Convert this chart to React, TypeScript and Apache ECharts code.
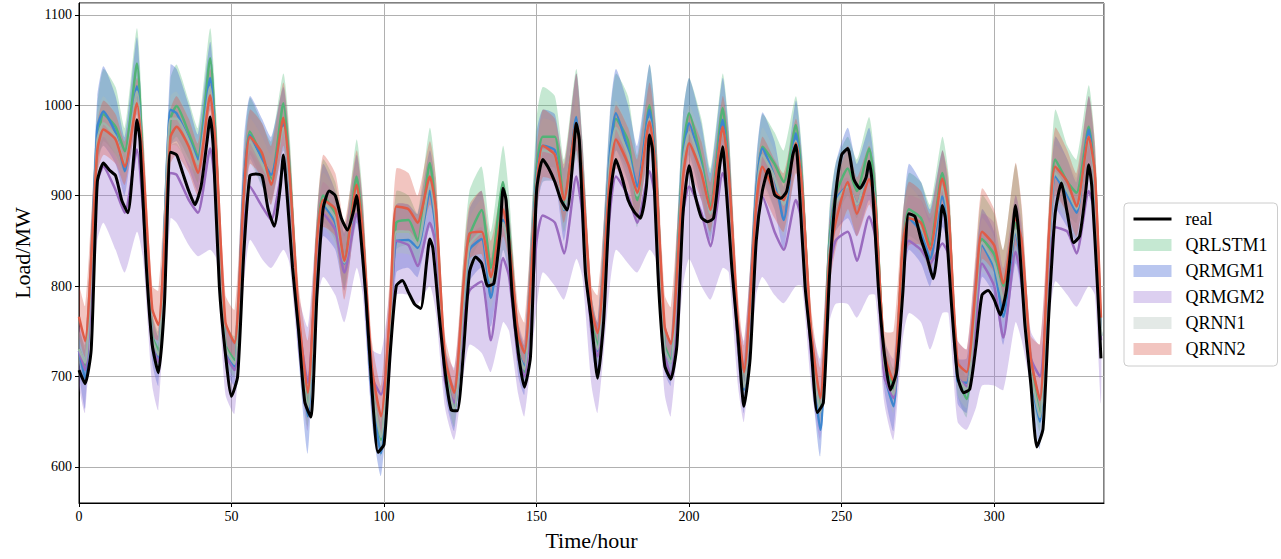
import { useEffect, useRef } from 'react';
import * as echarts from 'echarts';

// hours at which model quantiles were read
const modelHours = [
  0, 2, 6, 8, 12, 15, 19, 21,
  24, 26, 30, 32, 36, 39, 43, 45,
  48, 51, 54, 56, 60, 63, 67, 69,
  72, 75, 78, 80, 84, 87, 91, 93,
  96, 99, 102, 104, 108, 111, 115, 117,
  120, 123, 126, 128, 132, 135, 139, 141,
  144, 146, 150, 152, 156, 159, 163, 165,
  168, 170, 174, 176, 180, 183, 187, 189,
  192, 194, 198, 200, 204, 207, 211, 213,
  216, 218, 222, 224, 228, 231, 235, 237,
  240, 243, 246, 248, 252, 255, 259, 261,
  264, 267, 270, 272, 276, 279, 283, 285,
  288, 291, 294, 296, 300, 303, 307, 309,
  312, 315, 318, 320, 324, 327, 331, 333, 335,
];

const realHours = [
  0, 2, 4, 6, 8, 10, 12, 14, 16, 18, 19, 20, 22,
  24, 26, 28, 30, 32, 34, 36, 38, 40, 42, 43, 44, 46,
  48, 50, 52, 54, 56, 58, 60, 62, 64, 66, 67, 68, 70,
  72, 74, 76, 78, 80, 82, 84, 86, 88, 90, 91, 92, 94,
  96, 98, 100, 102, 104, 106, 108, 110, 112, 114, 115, 116, 118,
  120, 122, 124, 126, 128, 130, 132, 134, 136, 138, 139, 140, 142,
  144, 146, 148, 150, 152, 154, 156, 158, 160, 162, 163, 164, 166,
  168, 170, 172, 174, 176, 178, 180, 182, 184, 186, 187, 188, 190,
  192, 194, 196, 198, 200, 202, 204, 206, 208, 210, 211, 212, 214,
  216, 218, 220, 222, 224, 226, 228, 230, 232, 234, 235, 236, 238,
  240, 242, 244, 246, 248, 250, 252, 254, 256, 258, 259, 260, 262,
  264, 266, 268, 270, 272, 274, 276, 278, 280, 282, 283, 284, 286,
  288, 290, 292, 294, 296, 298, 300, 302, 304, 306, 307, 308, 310,
  312, 314, 316, 318, 320, 322, 324, 326, 328, 330, 331, 332, 334, 335,
];

const realLoad = [
  707, 692, 730, 915, 936, 928, 922, 895, 881, 945, 984, 960, 825,
  735, 704, 780, 948, 945, 925, 905, 890, 910, 961, 987, 954, 800,
  725, 678, 700, 835, 922, 924, 922, 885, 866, 910, 945, 910, 820,
  750, 672, 655, 790, 885, 905, 900, 875, 862, 883, 900, 870, 790,
  688, 616, 625, 725, 800, 806, 793, 780, 775, 828, 852, 842, 770,
  705, 663, 662, 726, 815, 832, 825, 800, 803, 858, 908, 895, 790,
  726, 688, 722, 905, 940, 930, 915, 895, 884, 943, 980, 962, 815,
  760, 698, 762, 895, 940, 920, 895, 882, 875, 910, 967, 951, 800,
  712, 697, 735, 880, 933, 900, 876, 871, 875, 932, 954, 915, 820,
  744, 667, 720, 850, 905, 929, 901, 897, 905, 945, 956, 915, 800,
  733, 660, 671, 810, 900, 945, 952, 918, 908, 920, 938, 915, 800,
  725, 685, 705, 790, 880, 877, 852, 832, 808, 855, 889, 875, 780,
  700, 682, 686, 733, 790, 795, 785, 768, 795, 860, 889, 860, 760,
  692, 622, 642, 775, 880, 914, 880, 848, 855, 905, 934, 910, 790, 720,
];

const qrlstm1Mid = [
  730, 712, 955, 990, 976, 949, 1046, 930,
  745, 729, 985, 999, 969, 943, 1052, 945,
  735, 718, 900, 971, 943, 918, 1002, 930,
  760, 667, 850, 900, 880, 828, 921, 860,
  690, 630, 760, 870, 873, 850, 936, 880,
  710, 663, 790, 855, 884, 820, 915, 860,
  730, 705, 930, 965, 965, 892, 980, 920,
  760, 735, 940, 985, 960, 895, 1000, 935,
  735, 718, 950, 991, 940, 888, 997, 930,
  745, 690, 900, 954, 935, 915, 978, 915,
  740, 663, 850, 900, 930, 905, 952, 900,
  720, 687, 840, 885, 875, 845, 925, 885,
  700, 675, 790, 852, 835, 800, 870, 840,
  710, 659, 850, 940, 915, 903, 976, 920, 745,
];
const qrlstm1Lo = [
  715, 695, 925, 960, 945, 925, 1010, 900,
  725, 710, 955, 965, 940, 915, 1015, 910,
  715, 700, 860, 945, 915, 890, 970, 895,
  740, 645, 820, 870, 850, 800, 890, 825,
  670, 612, 730, 840, 845, 825, 905, 850,
  690, 645, 760, 825, 850, 790, 880, 830,
  710, 690, 895, 930, 930, 860, 945, 890,
  740, 715, 905, 950, 925, 865, 965, 900,
  715, 700, 915, 955, 905, 855, 960, 895,
  725, 670, 865, 920, 900, 880, 945, 880,
  715, 645, 815, 870, 900, 875, 920, 870,
  700, 670, 810, 855, 845, 815, 895, 855,
  680, 655, 760, 820, 805, 775, 840, 810,
  690, 640, 815, 905, 880, 870, 940, 880, 720,
];
const qrlstm1Hi = [
  750, 735, 1000, 1040, 1020, 975, 1085, 975,
  770, 750, 1030, 1045, 1005, 975, 1085, 990,
  760, 745, 945, 1008, 980, 960, 1035, 970,
  785, 690, 880, 940, 915, 860, 962, 900,
  715, 655, 800, 905, 900, 880, 975, 920,
  735, 690, 830, 905, 932, 860, 955, 900,
  760, 735, 985, 1020, 1010, 940, 1040, 965,
  790, 760, 985, 1035, 1010, 945, 1045, 985,
  760, 740, 990, 1030, 985, 930, 1035, 975,
  770, 715, 935, 990, 970, 950, 1010, 950,
  765, 685, 885, 935, 965, 940, 987, 935,
  745, 710, 875, 925, 915, 890, 965, 925,
  725, 700, 830, 900, 880, 840, 935, 885,
  735, 680, 890, 995, 955, 940, 1022, 960, 775,
];

const qrmgm1Mid = [
  728, 697, 975, 993, 969, 927, 1021, 915,
  740, 720, 995, 991, 962, 940, 1030, 935,
  730, 711, 910, 967, 940, 923, 980, 915,
  750, 656, 840, 890, 870, 825, 905, 845,
  680, 615, 745, 850, 851, 842, 905, 860,
  700, 663, 775, 840, 852, 787, 873, 845,
  725, 711, 920, 955, 950, 884, 987, 915,
  755, 728, 945, 991, 950, 910, 995, 930,
  730, 715, 940, 980, 932, 881, 984, 925,
  740, 685, 905, 952, 920, 873, 969, 905,
  730, 641, 840, 895, 910, 890, 932, 890,
  705, 667, 830, 875, 860, 830, 899, 870,
  695, 693, 780, 845, 820, 766, 860, 820,
  700, 650, 840, 921, 900, 881, 973, 910, 745,
];
const qrmgm1Lo = [
  705, 665, 940, 955, 935, 900, 990, 880,
  715, 690, 955, 960, 930, 905, 995, 895,
  710, 690, 870, 940, 910, 895, 950, 880,
  720, 615, 805, 855, 840, 795, 870, 810,
  650, 590, 710, 815, 820, 810, 865, 830,
  680, 640, 745, 805, 820, 755, 840, 810,
  700, 680, 880, 915, 915, 850, 950, 880,
  730, 700, 905, 950, 915, 875, 955, 890,
  705, 690, 905, 945, 895, 850, 945, 885,
  715, 660, 865, 915, 885, 840, 935, 870,
  705, 612, 805, 860, 875, 855, 895, 860,
  685, 640, 795, 840, 825, 800, 865, 840,
  670, 660, 750, 810, 790, 735, 825, 790,
  680, 620, 805, 885, 865, 850, 935, 870, 720,
];
const qrmgm1Hi = [
  755, 730, 1010, 1043, 1010, 965, 1075, 960,
  770, 745, 1045, 1040, 1000, 968, 1070, 975,
  760, 740, 960, 1010, 985, 965, 1020, 955,
  780, 690, 875, 935, 905, 858, 945, 890,
  710, 650, 790, 890, 890, 880, 950, 905,
  730, 690, 810, 885, 905, 830, 905, 880,
  755, 735, 970, 995, 990, 930, 1035, 960,
  790, 760, 990, 1040, 1000, 955, 1045, 980,
  760, 740, 990, 1030, 980, 925, 1030, 970,
  765, 715, 940, 992, 960, 910, 1005, 945,
  760, 675, 880, 935, 975, 935, 975, 925,
  735, 700, 870, 935, 915, 885, 950, 910,
  720, 720, 820, 885, 860, 800, 900, 860,
  730, 680, 880, 965, 940, 915, 1010, 950, 770,
];

const qrmgm2Mid = [
  728, 707, 915, 932, 906, 881, 951, 885,
  735, 716, 925, 923, 895, 881, 952, 900,
  725, 707, 860, 910, 888, 873, 932, 880,
  760, 693, 830, 880, 862, 815, 880, 840,
  700, 680, 740, 850, 845, 822, 870, 845,
  695, 671, 760, 795, 805, 740, 831, 810,
  720, 700, 850, 878, 870, 836, 921, 880,
  750, 722, 880, 921, 900, 870, 927, 895,
  725, 700, 880, 910, 881, 844, 925, 890,
  735, 690, 860, 899, 860, 840, 895, 870,
  725, 676, 815, 850, 860, 828, 877, 855,
  700, 676, 810, 850, 840, 825, 847, 835,
  700, 689, 760, 825, 800, 743, 838, 805,
  720, 700, 820, 865, 860, 836, 905, 880, 740,
];
const qrmgm2Lo = [
  690, 660, 850, 870, 840, 815, 860, 830,
  690, 663, 875, 870, 845, 833, 840, 830,
  680, 659, 800, 851, 830, 820, 840, 825,
  720, 640, 780, 810, 790, 760, 820, 790,
  660, 640, 700, 790, 790, 780, 800, 770,
  665, 630, 700, 735, 726, 705, 760, 750,
  680, 656, 775, 815, 800, 785, 830, 810,
  690, 660, 800, 840, 825, 815, 840, 830,
  680, 656, 800, 830, 800, 785, 820, 815,
  690, 650, 790, 810, 790, 781, 800, 800,
  690, 630, 760, 780, 780, 765, 790, 790,
  670, 630, 740, 770, 760, 730, 770, 770,
  650, 641, 665, 690, 690, 685, 760, 740,
  690, 660, 760, 805, 790, 777, 800, 790, 670,
];
const qrmgm2Hi = [
  760, 740, 945, 965, 945, 925, 985, 940,
  760, 745, 955, 958, 935, 925, 990, 945,
  755, 740, 905, 950, 930, 915, 975, 935,
  790, 755, 875, 915, 900, 865, 925, 885,
  730, 725, 800, 890, 890, 875, 920, 890,
  730, 710, 810, 855, 865, 815, 885, 860,
  760, 740, 930, 955, 950, 905, 985, 940,
  780, 760, 930, 965, 950, 925, 975, 945,
  760, 740, 925, 955, 935, 900, 965, 935,
  770, 740, 905, 945, 915, 895, 945, 915,
  760, 720, 870, 910, 920, 895, 935, 905,
  740, 720, 860, 900, 895, 875, 905, 880,
  740, 730, 830, 880, 870, 820, 900, 870,
  750, 735, 875, 920, 915, 890, 955, 925, 790,
];

const qrnn1Mid = [
  730, 715, 960, 980, 965, 935, 1015, 920,
  742, 724, 985, 985, 960, 935, 1020, 935,
  732, 714, 900, 960, 935, 915, 975, 915,
  755, 663, 845, 893, 875, 826, 905, 850,
  690, 633, 755, 860, 860, 845, 915, 870,
  705, 663, 780, 845, 860, 805, 870, 840,
  725, 708, 915, 950, 945, 885, 975, 915,
  755, 730, 935, 975, 945, 900, 985, 925,
  730, 715, 935, 970, 930, 880, 975, 920,
  740, 688, 895, 945, 920, 890, 960, 905,
  735, 660, 840, 890, 910, 890, 935, 890,
  715, 680, 835, 880, 865, 840, 910, 875,
  700, 685, 785, 848, 825, 785, 862, 830,
  705, 655, 845, 925, 905, 885, 965, 910, 745,
];
const qrnn1Lo = [
  715, 700, 935, 955, 940, 915, 990, 895,
  725, 705, 955, 955, 935, 915, 995, 905,
  715, 700, 870, 935, 910, 895, 950, 890,
  735, 645, 815, 865, 845, 800, 875, 815,
  670, 615, 720, 835, 835, 825, 885, 845,
  690, 645, 755, 815, 835, 775, 840, 815,
  710, 690, 880, 915, 915, 860, 940, 885,
  740, 715, 900, 940, 915, 870, 950, 895,
  715, 700, 905, 940, 900, 855, 945, 890,
  720, 670, 860, 910, 885, 855, 925, 870,
  715, 640, 810, 860, 880, 860, 905, 860,
  700, 660, 805, 850, 835, 815, 880, 850,
  680, 665, 760, 815, 800, 760, 830, 800,
  685, 635, 810, 890, 870, 850, 930, 870, 720,
];
const qrnn1Hi = [
  750, 735, 990, 1010, 990, 955, 1040, 950,
  765, 745, 1010, 1015, 985, 960, 1045, 965,
  755, 735, 930, 985, 965, 945, 1005, 945,
  780, 690, 870, 925, 905, 855, 935, 885,
  710, 655, 790, 890, 890, 875, 945, 905,
  725, 685, 810, 875, 895, 835, 900, 870,
  750, 730, 955, 985, 980, 915, 1010, 950,
  780, 750, 965, 1005, 975, 930, 1015, 960,
  755, 735, 965, 1000, 965, 910, 1005, 955,
  760, 705, 925, 975, 950, 920, 990, 935,
  755, 680, 870, 920, 945, 915, 960, 915,
  740, 700, 860, 910, 895, 870, 940, 905,
  720, 705, 815, 875, 855, 815, 900, 860,
  730, 675, 880, 955, 940, 920, 1000, 945, 770,
];

const qrnn2Mid = [
  766, 739, 950, 973, 962, 932, 1002, 935,
  775, 757, 965, 976, 954, 925, 1011, 945,
  760, 737, 900, 965, 947, 912, 986, 925,
  770, 682, 850, 895, 885, 828, 912, 860,
  710, 656, 775, 888, 885, 870, 921, 885,
  720, 682, 800, 858, 860, 810, 885, 850,
  745, 726, 910, 955, 945, 895, 980, 920,
  775, 748, 920, 962, 935, 903, 982, 930,
  755, 736, 920, 958, 925, 884, 976, 925,
  760, 705, 890, 932, 905, 895, 958, 910,
  750, 676, 830, 870, 915, 880, 918, 890,
  725, 694, 845, 875, 870, 840, 919, 885,
  715, 705, 800, 860, 845, 803, 875, 850,
  720, 674, 860, 932, 915, 888, 965, 925, 765,
];
const qrnn2Lo = [
  745, 722, 925, 945, 935, 912, 980, 910,
  745, 740, 935, 945, 925, 900, 985, 920,
  735, 720, 870, 935, 920, 890, 955, 900,
  745, 660, 825, 865, 855, 785, 880, 830,
  690, 630, 745, 860, 860, 845, 890, 860,
  700, 665, 775, 830, 835, 785, 855, 825,
  725, 708, 880, 920, 915, 870, 950, 890,
  750, 730, 890, 930, 905, 875, 950, 900,
  735, 720, 890, 925, 895, 860, 945, 895,
  740, 690, 860, 900, 875, 860, 925, 880,
  730, 660, 800, 840, 885, 855, 890, 865,
  710, 680, 815, 845, 845, 815, 890, 860,
  695, 688, 770, 830, 815, 775, 845, 820,
  700, 655, 825, 900, 880, 855, 930, 890, 740,
];
const qrnn2Hi = [
  800, 778, 980, 1005, 990, 960, 1030, 970,
  800, 795, 995, 1010, 985, 958, 1040, 980,
  790, 774, 935, 995, 980, 955, 1025, 960,
  800, 740, 880, 945, 925, 870, 950, 895,
  740, 690, 815, 930, 925, 900, 960, 920,
  745, 707, 830, 890, 905, 850, 915, 880,
  775, 760, 950, 995, 985, 935, 1035, 960,
  800, 790, 955, 1000, 975, 940, 1025, 975,
  790, 777, 955, 990, 960, 915, 1010, 965,
  790, 735, 920, 965, 940, 925, 985, 940,
  775, 710, 870, 910, 955, 920, 955, 925,
  750, 750, 880, 915, 905, 880, 950, 920,
  740, 730, 840, 908, 885, 840, 936, 890,
  745, 736, 895, 975, 950, 925, 1010, 960, 795,
];

const models = [
  { name: 'QRLSTM1', mid: qrlstm1Mid, lo: qrlstm1Lo, hi: qrlstm1Hi, band: 'rgba(89,189,126,0.35)', line: '#52b376' },
  { name: 'QRMGM1', mid: qrmgm1Mid, lo: qrmgm1Lo, hi: qrmgm1Hi, band: 'rgba(55,92,209,0.35)', line: '#3d86cf' },
  { name: 'QRMGM2', mid: qrmgm2Mid, lo: qrmgm2Lo, hi: qrmgm2Hi, band: 'rgba(155,118,212,0.35)', line: '#9a6bbf' },
  { name: 'QRNN1', mid: qrnn1Mid, lo: qrnn1Lo, hi: qrnn1Hi, band: 'rgba(175,192,184,0.35)', line: '#9fb3ab' },
  { name: 'QRNN2', mid: qrnn2Mid, lo: qrnn2Lo, hi: qrnn2Hi, band: 'rgba(218,89,75,0.35)', line: '#e05c47' },
];

const FONT = 'Liberation Serif';

export default function App() {
  const ref = useRef<HTMLDivElement>(null);
  useEffect(() => {
    const chart = echarts.init(ref.current!, null, { renderer: 'svg' });

    const bandSeries = models.map((m) => ({
      type: 'custom',
      name: m.name,
      silent: true,
      clip: true,
      z: 1,
      itemStyle: { color: m.band },
      data: [[modelHours[0], m.lo[0]]],
      renderItem: (_params: any, api: any) => {
        const pts: number[][] = [];
        for (let i = 0; i < modelHours.length; i++) pts.push(api.coord([modelHours[i], m.hi[i]]));
        for (let i = modelHours.length - 1; i >= 0; i--) pts.push(api.coord([modelHours[i], m.lo[i]]));
        return {
          type: 'polygon',
          shape: { points: pts, smooth: 0.2 },
          style: { fill: m.band, stroke: null },
        };
      },
    }));

    const medianSeries = models.map((m) => ({
      type: 'line',
      name: m.name + ' median',
      data: modelHours.map((h, i) => [h, m.mid[i]]),
      symbol: 'none',
      smooth: 0.2,
      silent: true,
      z: 3,
      lineStyle: { color: m.line, width: 2.5 },
      itemStyle: { color: m.line },
    }));

    const realSeries = {
      type: 'line',
      name: 'real',
      data: realHours.map((h, i) => [h, realLoad[i]]),
      symbol: 'none',
      smooth: 0.2,
      silent: true,
      z: 5,
      lineStyle: { color: '#000', width: 3 },
      itemStyle: { color: '#000' },
    };

    chart.setOption({
      animation: false,
      grid: { left: 79, right: 177, top: 3, bottom: 56, show: true, borderColor: '#000', borderWidth: 1 },
      legend: {
        orient: 'vertical',
        left: 1124,
        top: 203,
        padding: [7, 10, 8, 8],
        itemGap: 8,
        itemWidth: 38,
        itemHeight: 12,
        borderColor: '#cccccc',
        borderWidth: 1,
        borderRadius: 4,
        backgroundColor: 'rgba(255,255,255,0.8)',
        selectedMode: false,
        textStyle: { fontFamily: FONT, fontSize: 18, color: '#000', padding: [0, 0, 0, 9] },
        data: [
          { name: 'real', lineStyle: { width: 3, color: '#000' }, itemStyle: { opacity: 0 } },
          ...models.map((m) => ({ name: m.name, icon: 'rect', itemStyle: { color: m.band } })),
        ],
      },
      xAxis: {
        type: 'value',
        min: 0,
        max: 336,
        interval: 50,
        name: 'Time/hour',
        nameLocation: 'middle',
        nameGap: 26,
        nameTextStyle: { fontFamily: FONT, fontSize: 22, color: '#000' },
        axisLine: { show: true, lineStyle: { color: '#000', width: 1 } },
        axisTick: { show: true, length: 4, lineStyle: { color: '#000' } },
        axisLabel: { fontFamily: FONT, fontSize: 14, color: '#000', margin: 6, showMaxLabel: false },
        splitLine: { show: true, lineStyle: { color: '#b0b0b0', width: 1 } },
      },
      yAxis: {
        type: 'value',
        min: 560,
        max: 1113,
        minInterval: 100,
        maxInterval: 100,
        name: 'Load/MW',
        nameLocation: 'middle',
        nameGap: 46,
        nameTextStyle: { fontFamily: FONT, fontSize: 22, color: '#000' },
        axisLine: { show: true, lineStyle: { color: '#000', width: 1 } },
        axisTick: { show: true, length: 4, lineStyle: { color: '#000' } },
        axisLabel: {
          fontFamily: FONT,
          fontSize: 14,
          color: '#000',
          margin: 7,
          showMinLabel: false,
          showMaxLabel: false,
          formatter: (v: number) => (v % 100 === 0 ? String(v) : ''),
        },
        splitLine: { show: true, lineStyle: { color: '#b0b0b0', width: 1 } },
      },
      series: [...bandSeries, ...medianSeries, realSeries],
    });

    return () => chart.dispose();
  }, []);

  return (
    <div
      ref={ref}
      style={{ position: 'fixed', left: 0, top: 0, width: '1281px', height: '559px', background: '#fff' }}
    />
  );
}
